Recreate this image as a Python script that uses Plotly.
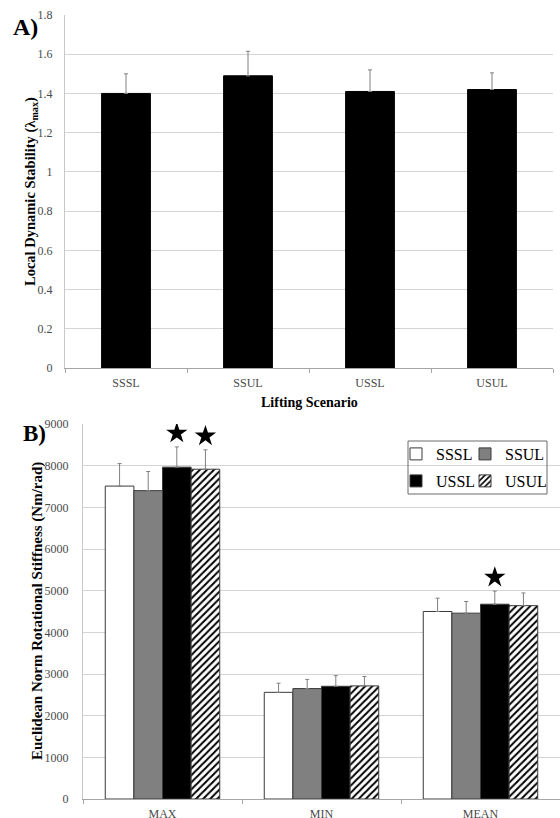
import plotly.graph_objects as go

# ---------------- data ----------------
scenarios = ["SSSL", "SSUL", "USSL", "USUL"]

# Panel A: local dynamic stability (lambda max)
lds_mean = [1.40, 1.49, 1.41, 1.42]
lds_sd = [0.10, 0.125, 0.11, 0.085]

# Panel B: Euclidean norm rotational stiffness (Nm/rad)
measures = ["MAX", "MIN", "MEAN"]
stiff_mean = {
    "SSSL": [7510, 2560, 4500],
    "SSUL": [7400, 2650, 4460],
    "USSL": [7965, 2705, 4675],
    "USUL": [7915, 2715, 4640],
}
stiff_sd = {
    "SSSL": [540, 220, 320],
    "SSUL": [460, 220, 280],
    "USSL": [485, 255, 315],
    "USUL": [465, 225, 305],
}
significant = {
    "SSSL": [False, False, False],
    "SSUL": [False, False, False],
    "USSL": [True, False, True],
    "USUL": [True, False, False],
}

# ---------------- style ----------------
FONT = "Liberation Serif"
W, H = 560, 818
TICK_COL = "#4a4a4a"
GRID_COL = "#d4d4d4"
styles = {
    "SSSL": dict(color="white", pattern=None),
    "SSUL": dict(color="#808080", pattern=None),
    "USSL": dict(color="black", pattern=None),
    "USUL": dict(color="white", pattern=dict(shape="/", fgcolor="black", bgcolor="white",
                                             size=5, solidity=0.4)),
}
legend_of = {"SSSL": "legend", "SSUL": "legend2", "USSL": "legend3", "USUL": "legend4"}
legend_pos = {"legend": (396, 454), "legend2": (465, 454),
              "legend3": (396, 481), "legend4": (465, 481)}
bar_w = 0.18
star_gap = 330


def px_x(p):
    return p / W


def px_y(p):
    return 1 - p / H


fig = go.Figure()

# Panel A
fig.add_trace(go.Bar(
    x=scenarios, y=lds_mean, width=0.4,
    marker=dict(color="black", line=dict(color="black", width=1)),
    error_y=dict(type="data", symmetric=False, array=lds_sd, arrayminus=[0] * len(lds_sd),
                 color="#808080", thickness=1, width=2),
    showlegend=False, xaxis="x", yaxis="y",
))

# Panel B
for j, s in enumerate(scenarios):
    xs = [i + (j - 1.5) * bar_w for i in range(len(measures))]
    st = styles[s]
    marker = dict(color=st["color"], line=dict(color="#3a3a3a", width=1))
    if st["pattern"]:
        marker["pattern"] = st["pattern"]
    fig.add_trace(go.Bar(
        x=xs, y=stiff_mean[s], width=bar_w, name=s,
        marker=marker,
        error_y=dict(type="data", symmetric=False, array=stiff_sd[s],
                     arrayminus=[0] * len(measures), color="#808080", thickness=1, width=2),
        xaxis="x2", yaxis="y2", legend=legend_of[s],
    ))

# significance stars
sx, sy = [], []
for j, s in enumerate(scenarios):
    for i in range(len(measures)):
        if significant[s][i]:
            sx.append(i + (j - 1.5) * bar_w)
            sy.append(stiff_mean[s][i] + stiff_sd[s][i] + star_gap)
fig.add_trace(go.Scatter(
    x=sx, y=sy, mode="markers",
    marker=dict(symbol="star", size=16, color="black"),
    showlegend=False, xaxis="x2", yaxis="y2", hoverinfo="skip",
))

axis_common = dict(tickfont=dict(family=FONT, size=12, color=TICK_COL), automargin=False)

legends = {}
for key, (lx, ly) in legend_pos.items():
    legends[key] = dict(orientation="h", x=px_x(lx), xanchor="left", y=px_y(ly),
                        yanchor="middle", font=dict(family=FONT, size=16, color="black"),
                        bgcolor="rgba(0,0,0,0)", borderwidth=0)


def label(text, x, y, size, angle=0):
    return dict(text=text, x=px_x(x), y=px_y(y), xref="paper", yref="paper",
                xanchor="center", yanchor="middle", showarrow=False, textangle=angle,
                font=dict(family=FONT, size=size, color="black"))


fig.update_layout(
    template="none",
    width=W, height=H,
    margin=dict(l=0, r=0, t=0, b=0, autoexpand=False),
    paper_bgcolor="white", plot_bgcolor="white",
    barmode="overlay",
    font=dict(family=FONT, color="black"),
    xaxis=dict(domain=[px_x(65), px_x(553)], anchor="y", type="category", range=[-0.5, 3.5],
               showline=True, linecolor="#a6a6a6", ticks="outside", tickson="boundaries",
               ticklen=4, tickcolor="#a6a6a6", showgrid=False, ticklabelstandoff=4,
               **axis_common),
    yaxis=dict(domain=[px_y(368), px_y(15)], anchor="x", range=[0, 1.8], dtick=0.2,
               showline=True, linecolor="#c8c8c8", showgrid=True, gridcolor=GRID_COL,
               zeroline=False, ticks="", ticklabelstandoff=9, **axis_common),
    xaxis2=dict(domain=[px_x(83), 1.0], anchor="y2", range=[-0.5, 2.5],
                tickvals=list(range(len(measures))), ticktext=measures,
                showline=True, linecolor="#a6a6a6", ticks="", showgrid=False,
                minor=dict(ticks="outside", tick0=0.5, dtick=1, ticklen=4,
                           tickcolor="#a6a6a6", showgrid=False),
                zeroline=False, ticklabelstandoff=4, **axis_common),
    yaxis2=dict(domain=[px_y(799), px_y(424)], anchor="x2", range=[0, 9000], dtick=1000,
                showline=True, linecolor="#c8c8c8", showgrid=True, gridcolor=GRID_COL,
                zeroline=False, ticks="", ticklabelstandoff=11, **axis_common),
    shapes=[dict(type="rect", xref="paper", yref="paper",
                 x0=px_x(408), x1=px_x(547), y0=px_y(494), y1=px_y(441),
                 line=dict(color="#6a6a6a", width=1), fillcolor="rgba(0,0,0,0)")],
    annotations=[
        label("<b>A)</b>", 25, 27, 24),
        label("<b>B)</b>", 34, 434, 23),
        label("<b>Local Dynamic Stability (λ<sub>max</sub>)</b>", 31, 192, 14.5, -90),
        label("<b>Lifting Scenario</b>", 309, 402, 14),
        label("<b>Euclidean Norm Rotational Stiffness (Nm/rad)</b>", 37, 611, 15, -90),
    ],
)
fig.update_layout(**legends)

fig.write_html("out.html", config={"displayModeBar": False},
               post_script="document.body.style.margin='0';")
